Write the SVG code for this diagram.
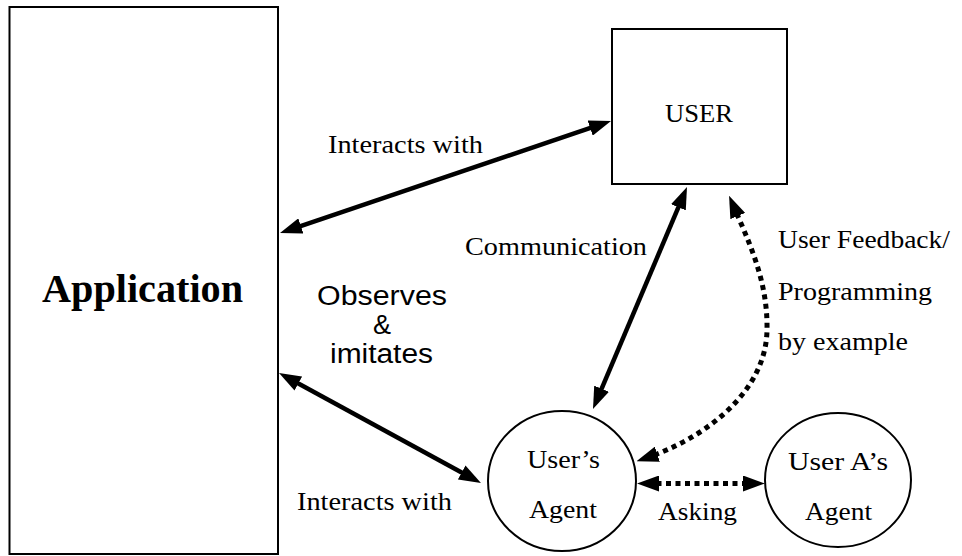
<svg xmlns="http://www.w3.org/2000/svg" width="962" height="556" viewBox="0 0 962 556">
  <style>
    .box { fill: #fff; stroke: #000; stroke-width: 2; }
    .lbl { font-family: "Liberation Serif", "Times New Roman", serif; font-size: 26px; fill: #000; }
    .sans { font-family: "Liberation Sans", Arial, sans-serif; font-size: 27px; fill: #000; }
    .title { font-family: "Liberation Serif", "Times New Roman", serif; font-size: 40px; font-weight: bold; fill: #000; }
    .solid { fill: none; stroke: #000; stroke-width: 4.5; marker-start: url(#head); marker-end: url(#head); }
    .dotted { fill: none; stroke: #000; stroke-width: 5; stroke-dasharray: 5 4.5; marker-start: url(#head); marker-end: url(#head); }
  </style>
  <defs>
    <!-- filled arrowhead; the tip sits 10px beyond the path end -->
    <marker id="head" viewBox="0 0 22 16" refX="12" refY="8" markerWidth="22" markerHeight="16" markerUnits="userSpaceOnUse" orient="auto-start-reverse">
      <path d="M0,0 L22,8 L0,16 Z" fill="#000" stroke="none"/>
    </marker>
  </defs>
  <rect width="962" height="556" fill="#fff"/>

  <!-- nodes -->
  <g id="application">
    <rect class="box" x="9.5" y="7" width="268.5" height="547"/>
    <text class="title" x="42" y="302" textLength="201" lengthAdjust="spacingAndGlyphs">Application</text>
  </g>
  <g id="user">
    <rect class="box" x="612" y="29" width="175" height="155"/>
    <text class="lbl" x="665" y="122" textLength="68" lengthAdjust="spacingAndGlyphs">USER</text>
  </g>
  <g id="users-agent">
    <ellipse class="box" cx="562" cy="481" rx="74" ry="70"/>
    <text class="lbl" x="527" y="468" textLength="73" lengthAdjust="spacingAndGlyphs">User’s</text>
    <text class="lbl" x="529" y="518" textLength="68" lengthAdjust="spacingAndGlyphs">Agent</text>
  </g>
  <g id="user-a-agent">
    <ellipse class="box" cx="838" cy="480" rx="73" ry="67"/>
    <text class="lbl" x="788" y="470" textLength="100" lengthAdjust="spacingAndGlyphs">User A’s</text>
    <text class="lbl" x="805" y="520" textLength="67" lengthAdjust="spacingAndGlyphs">Agent</text>
  </g>

  <!-- connectors -->
  <g id="connectors">
    <!-- application <-> user -->
    <path class="solid" d="M289.5,229.8 L601.5,124.2"/>
    <!-- user <-> user's agent -->
    <path class="solid" d="M683.1,196.2 L596.9,399.8"/>
    <!-- application <-> user's agent -->
    <path class="solid" d="M287.8,377.8 L472.2,478.2"/>
    <!-- feedback / programming by example -->
    <path class="dotted" d="M733,205 C748,240 768,280 767,330 C766,395 700,440 646,458"/>
    <!-- asking -->
    <path class="dotted" d="M647,483.5 L755,483.5"/>

    <text class="lbl" x="328" y="153" textLength="155" lengthAdjust="spacingAndGlyphs">Interacts with</text>
    <text class="lbl" x="465" y="255" textLength="182" lengthAdjust="spacingAndGlyphs">Communication</text>
    <text class="sans" x="317" y="305" textLength="130" lengthAdjust="spacingAndGlyphs">Observes</text>
    <text class="sans" x="382" y="334" text-anchor="middle">&amp;</text>
    <text class="sans" x="330" y="363" textLength="103" lengthAdjust="spacingAndGlyphs">imitates</text>
    <text class="lbl" x="297" y="510" textLength="155" lengthAdjust="spacingAndGlyphs">Interacts with</text>
    <text class="lbl" x="658" y="520" textLength="79" lengthAdjust="spacingAndGlyphs">Asking</text>
    <text class="lbl" x="778" y="248" textLength="172" lengthAdjust="spacingAndGlyphs">User Feedback/</text>
    <text class="lbl" x="778" y="300" textLength="154" lengthAdjust="spacingAndGlyphs">Programming</text>
    <text class="lbl" x="778" y="350" textLength="130" lengthAdjust="spacingAndGlyphs">by example</text>
  </g>
</svg>
